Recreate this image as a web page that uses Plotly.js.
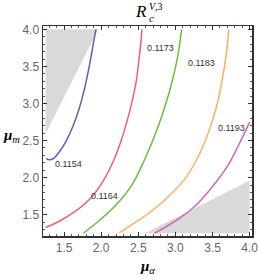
<!DOCTYPE html>
<html><head><meta charset="utf-8">
<script src="https://cdn.plot.ly/plotly-3.0.1.min.js"></script>
<style>html,body{margin:0;padding:0;background:#fff}#chart{width:258px;height:277px}</style>
</head><body><div id="chart"></div>
<script>
// contour levels and their curves (mu_alpha, mu_m)
const levels = ["0.1154","0.1164","0.1173","0.1183","0.1193"];
const blueX = [1.26,1.30,1.36,1.43,1.52,1.61,1.70,1.78,1.85,1.90,1.93];
const blueY = [2.256,2.241,2.26,2.34,2.48,2.67,2.92,3.22,3.56,3.84,4.0];
const redX = [1.25,1.266,1.442,1.658,1.861,2.036,2.172,2.273,2.354,2.422,2.476,2.509,2.532,2.550];
const redY = [1.33,1.334,1.415,1.551,1.727,1.970,2.241,2.511,2.782,3.053,3.323,3.594,3.797,4.0];
const greenX = [1.759,1.982,2.199,2.415,2.584,2.699,2.800,2.888,2.962,3.023,3.057,3.084];
const greenY = [1.25,1.429,1.632,1.903,2.241,2.511,2.782,3.053,3.323,3.594,3.797,4.0];
const orangeX = [2.245,2.469,2.699,2.928,3.118,3.286,3.408,3.503,3.577,3.631,3.676,3.700,3.720];
const orangeY = [1.255,1.402,1.564,1.767,1.970,2.241,2.511,2.782,3.053,3.323,3.594,3.797,4.0];
const magentaX = [2.72,2.888,3.064,3.266,3.496,3.712,3.847,4.0];
const magentaY = [1.25,1.348,1.456,1.618,1.875,2.173,2.430,2.748];
// excluded (gray) regions
const grayTopX = [1.25,1.25,1.96];
const grayTopY = [2.59,4.0,4.0];
const grayBotX = [2.59,4.0,4.0];
const grayBotY = [1.25,1.25,1.96];
// label anchor points for contour labels
const labelX = [1.554,2.05,2.793,3.357,3.753];
const labelY = [2.187,1.758,3.743,3.540,2.670];
const xTicks = [1.5,2.0,2.5,3.0,3.5,4.0];
const yTicks = [1.5,2.0,2.5,3.0,3.5,4.0];

const colors = ["#5d60b4","#f2606f","#6cbf3c","#ffad60","#d267b9"];
const curvesX = [blueX,redX,greenX,orangeX,magentaX];
const curvesY = [blueY,redY,greenY,orangeY,magentaY];

const traces = [
  {x:grayTopX,y:grayTopY,mode:'lines',fill:'toself',fillcolor:'#d9d9d9',line:{width:0,color:'rgba(0,0,0,0)'},hoverinfo:'skip'},
  {x:grayBotX,y:grayBotY,mode:'lines',fill:'toself',fillcolor:'#d9d9d9',line:{width:0,color:'rgba(0,0,0,0)'},hoverinfo:'skip'}
];
curvesX.forEach((cx,i)=>{
  traces.push({x:cx,y:curvesY[i],mode:'lines',line:{color:colors[i],width:1.5,shape:'spline',smoothing:1},hoverinfo:'skip'});
});

const tickFont = {family:'Liberation Sans, Arial, sans-serif',size:12,color:'#666'};
const axisCommon = {
  showgrid:false,zeroline:false,showline:true,linecolor:'#333',linewidth:1.5,mirror:'ticks',
  ticks:'inside',ticklen:4,tickwidth:1,tickcolor:'#333',tickfont:tickFont,ticklabeloverflow:'allow',
  minor:{dtick:0.1,ticks:'inside',ticklen:2,tickwidth:0.8,tickcolor:'#333'}
};
const annotations = levels.map((t,i)=>({x:labelX[i],y:labelY[i],xref:'x',yref:'y',text:t,showarrow:false,
  font:{family:'Liberation Sans, Arial, sans-serif',size:9,color:'#333'}}));
annotations.push(
  {x:0.5,y:1,xref:'paper',yref:'paper',xanchor:'right',yanchor:'bottom',yshift:3,xshift:1,showarrow:false,
   text:'<i>R</i>',font:{family:'Liberation Serif, serif',size:17,color:'#000'}},
  {x:0.5,y:1,xref:'paper',yref:'paper',xanchor:'left',yanchor:'bottom',yshift:12,xshift:-1,showarrow:false,
   text:'<i>V</i>,3',font:{family:'Liberation Serif, serif',size:10,color:'#000'}},
  {x:0.5,y:1,xref:'paper',yref:'paper',xanchor:'left',yanchor:'bottom',yshift:0,xshift:-1,showarrow:false,
   text:'<i>c</i>',font:{family:'Liberation Serif, serif',size:11,color:'#000'}},
  {x:0.5,y:0,xref:'paper',yref:'paper',xanchor:'center',yanchor:'middle',yshift:-31,showarrow:false,
   text:'<b><i>μ</i></b><sub><i>α</i></sub>',font:{family:'Liberation Serif, serif',size:15,color:'#000'}},
  {x:0,y:0.475,xref:'paper',yref:'paper',xanchor:'center',yanchor:'middle',xshift:-32,showarrow:false,
   text:'<b><i>μ</i></b><sub><i>m</i></sub>',font:{family:'Liberation Serif, serif',size:15,color:'#000'}}
);

const layout = {
  width:258,height:277,margin:{l:43,r:6,t:26,b:41},
  paper_bgcolor:'#fff',plot_bgcolor:'#fff',showlegend:false,
  xaxis:Object.assign({},axisCommon,{range:[1.216,4.032],tickvals:xTicks,ticktext:xTicks.map(v=>v.toFixed(1))}),
  yaxis:Object.assign({},axisCommon,{range:[1.213,4.045],tickvals:yTicks,ticktext:yTicks.map(v=>v.toFixed(1))}),
  annotations:annotations
};
Plotly.newPlot('chart',traces,layout,{staticPlot:true,displayModeBar:false});
</script></body></html>
